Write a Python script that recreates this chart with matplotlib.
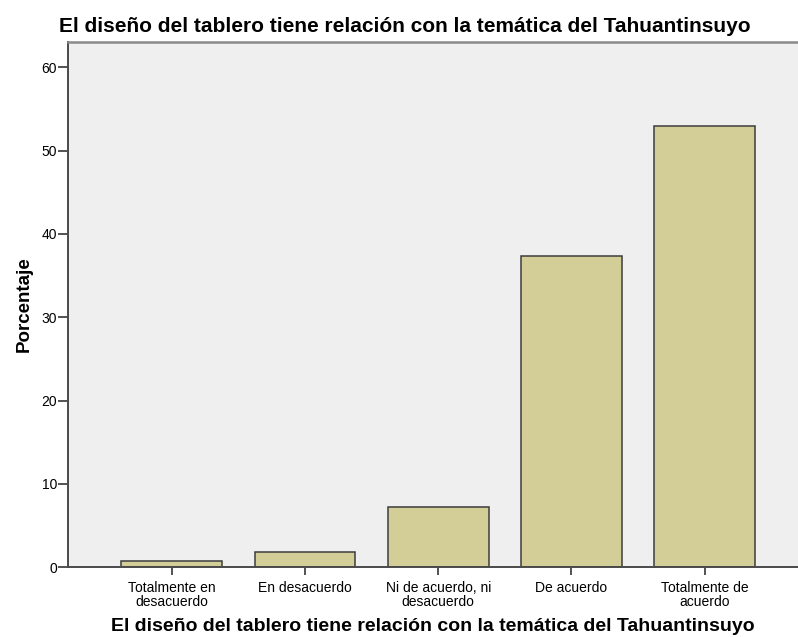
import matplotlib.pyplot as plt

# Data
categorias = ["Totalmente en\ndesacuerdo", "En desacuerdo", "Ni de acuerdo, ni\ndesacuerdo",
              "De acuerdo", "Totalmente de\nacuerdo"]
porcentaje = [0.7, 1.8, 7.2, 37.4, 52.9]
yticks = [0, 10, 20, 30, 40, 50, 60]

titulo = "El diseño del tablero tiene relación con la temática del Tahuantinsuyo"

plt.rcParams["font.family"] = ["Liberation Sans", "DejaVu Sans"]

fig = plt.figure(figsize=(7.98, 6.37), dpi=100)
ax = fig.add_axes([0.0856, 0.1094, 0.9144, 0.8252])
ax.set_facecolor("#EFEFEF")

x = list(range(1, len(categorias) + 1))
ax.bar(x, porcentaje, width=0.755, color="#D3CE97", edgecolor="#3C3C3C", linewidth=1.1, zorder=2)

ax.set_xlim(0.224, 5.70)
ax.set_ylim(0, 63.07)
ax.set_xticks(x)
ax.set_xticklabels(categorias, fontsize=10, linespacing=1.0)
ax.set_yticks(yticks)
ax.tick_params(axis="y", length=7, width=1.3, pad=1, labelsize=10, color="#444444")
ax.tick_params(axis="x", length=5.5, width=1.3, pad=4.5, color="#444444")

for side in ["left", "bottom"]:
    ax.spines[side].set_color("#4A4A4A")
    ax.spines[side].set_linewidth(1.4)
ax.spines["top"].set_color("#8A8A8A")
ax.spines["top"].set_linewidth(1.8)
ax.spines["right"].set_visible(False)

ax.set_ylabel("Porcentaje", fontsize=13.5, fontweight="bold", labelpad=6)
ax.set_xlabel(titulo, fontsize=14, fontweight="bold", labelpad=6)
fig.text(0.507, 0.950, titulo, ha="center", va="baseline", fontsize=15, fontweight="bold")

fig.savefig("out.png", dpi=100)
